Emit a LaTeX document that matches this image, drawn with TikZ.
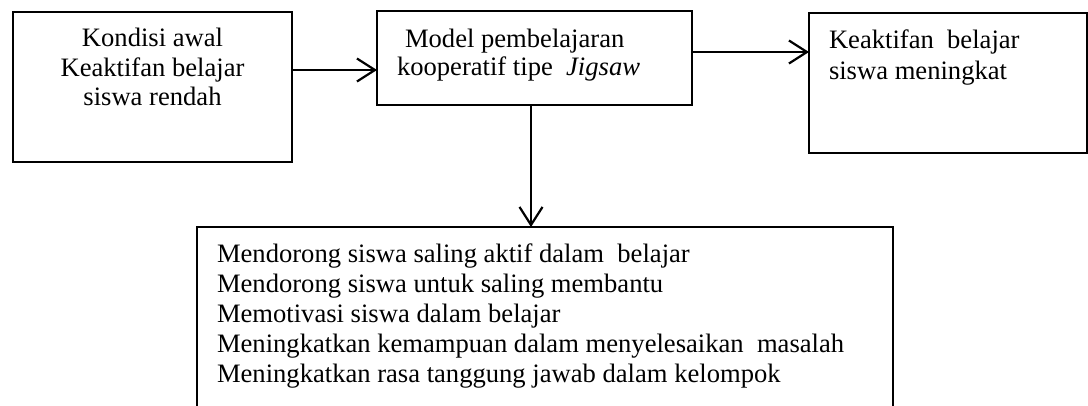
\documentclass[tikz,border=0pt]{standalone}
\usepackage{fontspec}
\setmainfont{Liberation Serif}
\usetikzlibrary{arrows.meta}
\begin{document}
\begin{tikzpicture}[x=1pt,y=1pt,
  boxnode/.style={draw=black,line width=1.1pt,rectangle,inner sep=0pt,outer sep=0pt},
  txt/.style={inner sep=0pt,outer sep=0pt,font=\fontsize{26.6}{30}\selectfont},
  arr/.style={line width=2.2pt,-{Straight Barb[length=18pt,width=23pt,line width=2.2pt]}}]
\useasboundingbox (0,0) rectangle (1088,-405);
\clip (0,0) rectangle (1088,-405);
% boxes
\node[boxnode,minimum width=279pt,minimum height=150pt] (b1) at (152.5,-87) {};
\node[boxnode,minimum width=315pt,minimum height=94pt] (b2) at (534.5,-58) {};
\node[boxnode,minimum width=278pt,minimum height=140pt] (b3) at (948,-83) {};
\node[boxnode,minimum width=696pt,minimum height=200pt] (b4) at (545,-327) {};
% texts box 1
\node[txt,anchor=base] (t11) at (152.5,-46) {Kondisi awal};
\node[txt,anchor=base] (t12) at (152.5,-76) {Keaktifan belajar};
\node[txt,anchor=base] (t13) at (152.5,-105) {siswa rendah};
% texts box 2
\node[txt,anchor=base west] (t21) at (405,-47) {Model pembelajaran};
\node[txt,anchor=base west] (t22) at (397,-75) {kooperatif tipe\ \ \textit{Jigsaw}};
% texts box 3
\node[txt,anchor=base west] (t31) at (829,-48) {Keaktifan\ \ belajar};
\node[txt,anchor=base west] (t32) at (829,-79) {siswa meningkat};
% texts box 4
\node[txt,anchor=base west] (t41) at (217,-262) {Mendorong siswa saling aktif dalam\ \ belajar};
\node[txt,anchor=base west] (t42) at (217,-292) {Mendorong siswa untuk saling membantu};
\node[txt,anchor=base west] (t43) at (217,-322) {Memotivasi siswa dalam belajar};
\node[txt,anchor=base west] (t44) at (217,-352) {Meningkatkan kemampuan dalam menyelesaikan\ \ masalah};
\node[txt,anchor=base west] (t45) at (217,-382) {Meningkatkan rasa tanggung jawab dalam kelompok};
% connectors
\coordinate (y1) at (0,-70);
\coordinate (y2) at (0,-52);
\coordinate (x3) at (531,0);
\draw[arr] (b1.east |- y1) -- (b2.west |- y1);
\draw[arr] (b2.east |- y2) -- (b3.west |- y2);
\draw[arr] (x3 |- b2.south) -- (x3 |- b4.north);
\end{tikzpicture}
\end{document}
